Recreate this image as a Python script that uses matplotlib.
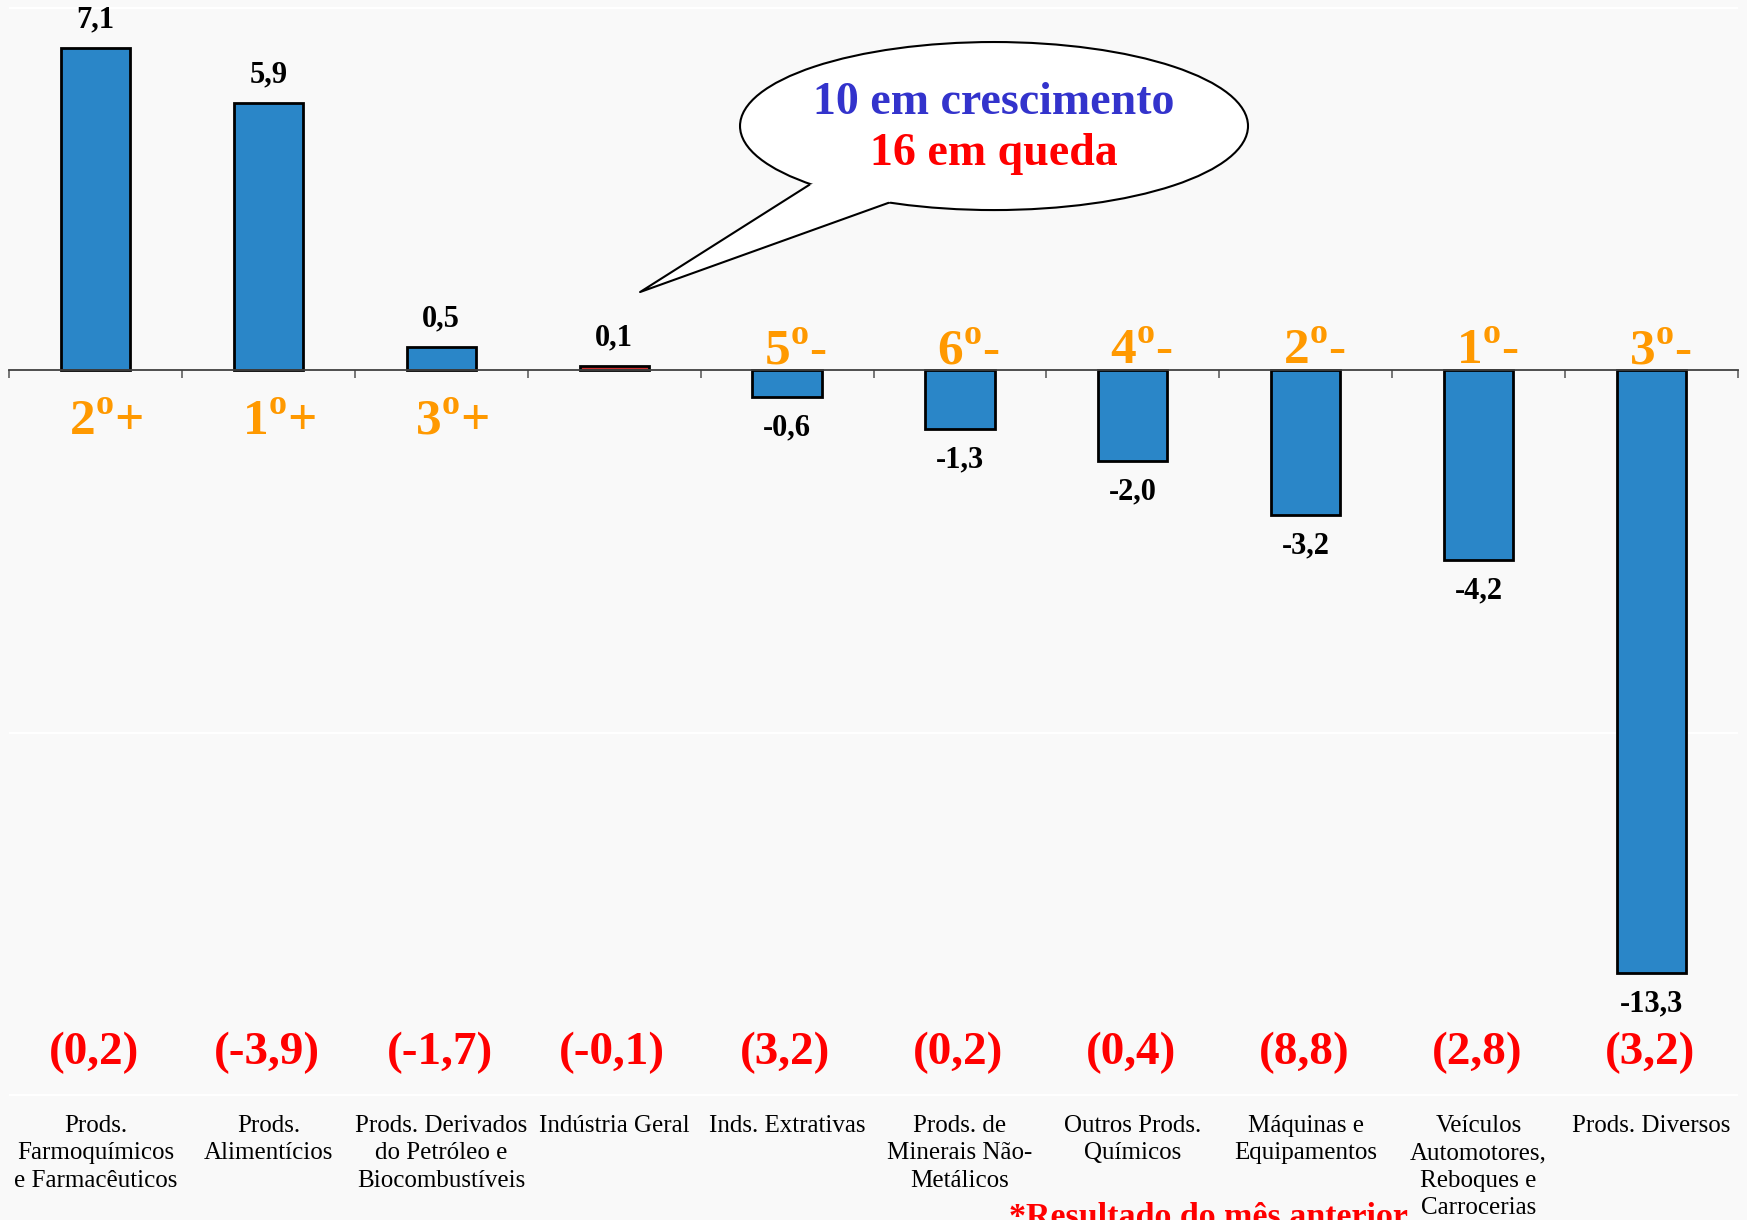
import numpy as np
import matplotlib.pyplot as plt
from matplotlib.patches import Ellipse, Polygon

plt.rcParams['font.family'] = ['Liberation Serif', 'DejaVu Serif']
plt.rcParams['mathtext.fontset'] = 'custom'
plt.rcParams['mathtext.rm'] = 'Liberation Serif'
plt.rcParams['mathtext.bf'] = 'Liberation Serif:bold'

# data
categories = ['Prods.\nFarmoquímicos\ne Farmacêuticos', 'Prods.\nAlimentícios',
              'Prods. Derivados\ndo Petróleo e\nBiocombustíveis', 'Indústria Geral',
              'Inds. Extrativas', 'Prods. de\nMinerais Não-\nMetálicos',
              'Outros Prods.\nQuímicos', 'Máquinas e\nEquipamentos',
              'Veículos\nAutomotores,\nReboques e\nCarrocerias', 'Prods. Diversos']
values = [7.1, 5.9, 0.5, 0.1, -0.6, -1.3, -2.0, -3.2, -4.2, -13.3]
previous = ['(0,2)', '(-3,9)', '(-1,7)', '(-0,1)', '(3,2)', '(0,2)', '(0,4)', '(8,8)', '(2,8)', '(3,2)']
ranks = ['2', '1', '3', '', '5', '6', '4', '2', '1', '3']
bar_colors = ['#2A86C8'] * 3 + ['#D03030'] + ['#2A86C8'] * 6

bg = '#F9F9F9'
fig = plt.figure(figsize=(17.47, 12.2), dpi=100, facecolor=bg)
ax = fig.add_axes([9 / 1747, 0, 1729 / 1747, 1])
ax.set_facecolor(bg)

x = np.arange(len(values))
ax.bar(x, values, width=0.4, color=bar_colors, edgecolor='black', linewidth=2, zorder=3)

ax.set_xlim(-0.5, 9.5)
ax.set_ylim(-18.76, 8.168)

# axis line at zero with ticks between categories
for s in ['top', 'right', 'left']:
    ax.spines[s].set_visible(False)
ax.spines['bottom'].set_position(('data', 0))
ax.spines['bottom'].set_color('#404040')
ax.spines['bottom'].set_linewidth(1.3)
ax.spines['bottom'].set_zorder(4)
ax.set_xticks(np.arange(-0.5, 10, 1))
ax.set_xticklabels([])
ax.tick_params(axis='x', direction='out', length=6, color='#606060', width=1.2)
ax.set_yticks([-16, -8, 8])
ax.set_yticklabels([])
ax.tick_params(axis='y', length=0)
ax.grid(axis='y', color='white', linewidth=1.6, zorder=0)

# value labels
for xi, v in zip(x, values):
    if v >= 0:
        ax.text(xi, v + 0.62, f'{v:.1f}'.replace('.', ','), ha='center', va='center',
                fontsize=22, fontweight='bold', color='black')
    else:
        ax.text(xi, v - 0.68, f'{v:.1f}'.replace('.', ','), ha='center', va='center',
                fontsize=22, fontweight='bold', color='black')

# ranking labels
for xi, v, r in zip(x, values, ranks):
    if not r:
        continue
    if v >= 0:
        ax.text(xi + 0.06, -1.42, r + r'$^{\mathbf{o}}$+', ha='center', va='baseline',
                fontsize=37, fontweight='bold', color='#FF9900')
    else:
        ax.text(xi + 0.05, 0.13, r + r'$^{\mathbf{o}}$-', ha='center', va='baseline',
                fontsize=37, fontweight='bold', color='#FF9900')

# previous month results
for xi, p in zip(x, previous):
    ax.text(xi - 0.01, -15.07, p, ha='center', va='center', fontsize=34,
            fontweight='bold', color='#FF0000')

# category labels
for xi, c in zip(x, categories):
    ax.text(xi, -16.45, c, ha='center', va='top', fontsize=18, linespacing=1.3,
            color='black')

ax.text(6.44, -18.9, '*Resultado do mês anterior', ha='center', va='baseline',
        fontsize=24.5, fontweight='bold', color='#FF0000', clip_on=False)

# speech bubble
ell = Ellipse((5.197, 5.386), 2.938, 3.709, facecolor='white', edgecolor='black',
              linewidth=1.5, zorder=5)
ax.add_patch(ell)
tip = (3.150, 1.722)
left = (4.127, 4.084)
right = (4.584, 3.687)
ax.add_patch(Polygon([tip, left, (4.3, 4.3), (4.7, 4.0), right], closed=True,
                     facecolor='white', edgecolor='none', zorder=6))
ax.plot([left[0], tip[0], right[0]], [left[1], tip[1], right[1]], color='black',
        linewidth=1.5, zorder=7)
ax.text(5.197, 5.894, '10 em crescimento', ha='center', va='center', fontsize=33,
        fontweight='bold', color='#3333CC', zorder=8)
ax.text(5.197, 4.768, '16 em queda', ha='center', va='center', fontsize=33,
        fontweight='bold', color='#FF0000', zorder=8)

fig.savefig('out.png', dpi=100, facecolor=bg)
